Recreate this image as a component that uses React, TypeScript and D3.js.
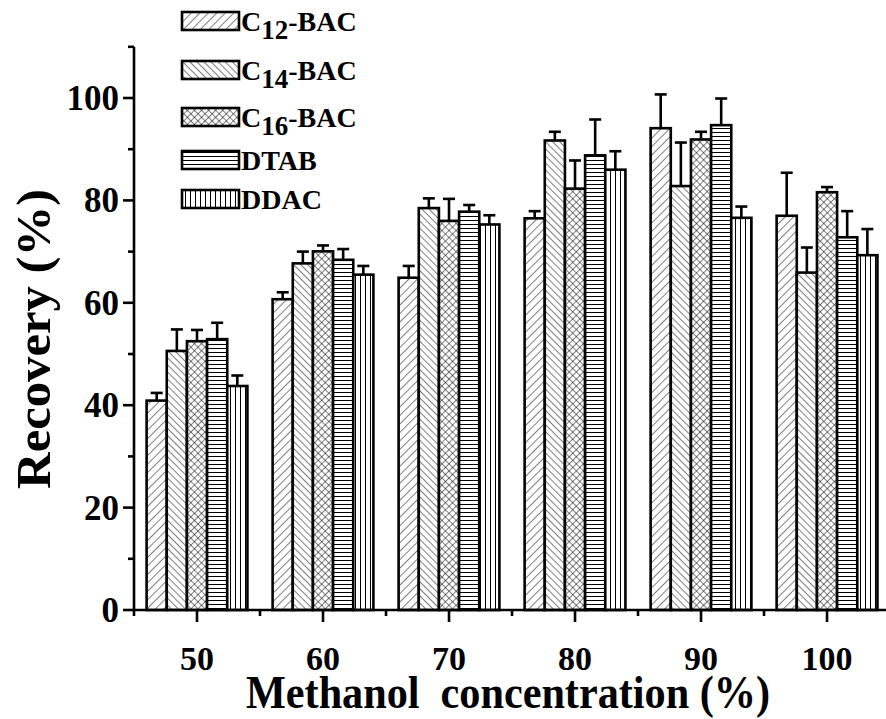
import React from "react";
import * as d3 from "d3";

const categories = [50, 60, 70, 80, 90, 100];
const seriesNames = ["C12-BAC", "C14-BAC", "C16-BAC", "DTAB", "DDAC"];
const c12 = [40.9, 60.7, 64.9, 76.5, 94.1, 77.0];
const c14 = [50.6, 67.7, 78.5, 91.7, 82.8, 65.9];
const c16 = [52.5, 70.05, 76.0, 82.3, 91.9, 81.6];
const dtab = [52.9, 68.4, 77.8, 88.8, 94.7, 72.8];
const ddac = [43.75, 65.5, 75.3, 86.0, 76.6, 69.3];
const c12Err = [1.5, 1.35, 2.3, 1.4, 6.6, 8.4];
const c14Err = [4.2, 2.3, 1.9, 1.7, 8.5, 4.9];
const c16Err = [2.2, 1.15, 4.3, 5.5, 1.5, 1.0];
const dtabErr = [3.2, 2.1, 1.3, 7.0, 5.2, 5.1];
const ddacErr = [2.05, 1.7, 1.8, 3.6, 2.2, 5.1];
const yTicks = [0, 20, 40, 60, 80, 100];

const values = [c12, c14, c16, dtab, ddac];
const errors = [c12Err, c14Err, c16Err, dtabErr, ddacErr];
const patternIds = ["pC12", "pC14", "pC16", "pDTAB", "pDDAC"];

const FONT = "'Liberation Serif', 'Times New Roman', serif";

export default function App() {
  const W = 886;
  const H = 719;
  const x = d3.scaleLinear().domain([45, 104.68]).range([134, 886]);
  const y = d3.scaleLinear().domain([0, 110]).range([610, 46.8]);
  const unit = x(1) - x(0);
  const barW = 1.6 * unit;
  const sw = 2.6;

  const minorY = d3.range(10, 111, 20);
  const majorX = categories;
  const minorX = d3.range(45, 105, 10);

  const legendRows = [21, 70, 117, 160, 199];

  const renderLabel = (name: string, lx: number, ly: number) => {
    const m = name.match(/^C(\d+)(-BAC)$/);
    if (m) {
      return (
        <text x={lx} y={ly} fontFamily={FONT} fontWeight="bold" fontSize={28}>
          C
          <tspan fontSize={27} dy={8}>{m[1]}</tspan>
          <tspan dy={-8}>{m[2]}</tspan>
        </text>
      );
    }
    return (
      <text x={lx} y={ly} fontFamily={FONT} fontWeight="bold" fontSize={28}>
        {name}
      </text>
    );
  };

  return (
    <svg width={W} height={H} style={{ position: "absolute", left: 0, top: 0, background: "#fff" }}>
      <defs>
        <pattern id="pC12" patternUnits="userSpaceOnUse" width={6} height={6} patternTransform="rotate(45)">
          <rect width={6} height={6} fill="#fff" />
          <line x1={0} y1={0} x2={0} y2={6} stroke="#000" strokeWidth={1} />
        </pattern>
        <pattern id="pC14" patternUnits="userSpaceOnUse" width={5} height={5} patternTransform="rotate(-45)">
          <rect width={5} height={5} fill="#fff" />
          <line x1={0} y1={0} x2={0} y2={5} stroke="#000" strokeWidth={1} />
        </pattern>
        <pattern id="pC16" patternUnits="userSpaceOnUse" width={5} height={5} patternTransform="rotate(45)">
          <rect width={5} height={5} fill="#fff" />
          <line x1={0} y1={0} x2={0} y2={5} stroke="#000" strokeWidth={1} />
          <line x1={0} y1={0} x2={5} y2={0} stroke="#000" strokeWidth={1} />
        </pattern>
        <pattern id="pDTAB" patternUnits="userSpaceOnUse" width={6} height={4}>
          <rect width={6} height={4} fill="#fff" />
          <line x1={0} y1={0.5} x2={6} y2={0.5} stroke="#000" strokeWidth={1} />
        </pattern>
        <pattern id="pDDAC" patternUnits="userSpaceOnUse" width={5} height={6}>
          <rect width={5} height={6} fill="#fff" />
          <line x1={0.5} y1={0} x2={0.5} y2={6} stroke="#000" strokeWidth={1} />
        </pattern>
      </defs>

      {/* bars */}
      {values.map((series, si) => (
        <g key={si}>
          {series.map((v, ci) => {
            const cx = x(categories[ci]) + (si - 2) * barW;
            const bx = cx - barW / 2;
            const top = y(v);
            const errTop = y(v + errors[si][ci]);
            return (
              <g key={ci}>
                <line x1={cx} x2={cx} y1={top} y2={errTop} stroke="#000" strokeWidth={sw} />
                <line x1={cx - 6} x2={cx + 6} y1={errTop} y2={errTop} stroke="#000" strokeWidth={sw} />
                <rect
                  x={bx}
                  y={top}
                  width={barW}
                  height={y(0) - top}
                  fill={`url(#${patternIds[si]})`}
                  stroke="#000"
                  strokeWidth={sw}
                />
              </g>
            );
          })}
        </g>
      ))}

      {/* y axis */}
      <line x1={134} x2={134} y1={y(0) + 1} y2={y(110)} stroke="#000" strokeWidth={sw} />
      {yTicks.map((t) => (
        <g key={t}>
          <line x1={123} x2={134} y1={y(t)} y2={y(t)} stroke="#000" strokeWidth={sw} />
          <text
            x={119}
            y={y(t)}
            dy="0.34em"
            textAnchor="end"
            fontFamily={FONT}
            fontWeight="bold"
            fontSize={35}
          >
            {t}
          </text>
        </g>
      ))}
      {minorY.map((t) => (
        <line key={t} x1={128} x2={134} y1={y(t)} y2={y(t)} stroke="#000" strokeWidth={sw} />
      ))}

      {/* x axis */}
      <line x1={133} x2={886} y1={y(0)} y2={y(0)} stroke="#000" strokeWidth={sw} />
      {majorX.map((t) => (
        <g key={t}>
          <line x1={x(t)} x2={x(t)} y1={y(0)} y2={y(0) + 12} stroke="#000" strokeWidth={sw} />
          <text
            x={x(t)}
            y={670}
            textAnchor="middle"
            fontFamily={FONT}
            fontWeight="bold"
            fontSize={34}
          >
            {t}
          </text>
        </g>
      ))}
      {minorX.map((t) => (
        <line key={t} x1={x(t)} x2={x(t)} y1={y(0)} y2={y(0) + 6} stroke="#000" strokeWidth={sw} />
      ))}

      {/* axis titles */}
      <text
        x={508}
        y={708}
        textAnchor="middle"
        fontFamily={FONT}
        fontWeight="bold"
        fontSize={46}
        textLength={524}
        lengthAdjust="spacingAndGlyphs"
        style={{ whiteSpace: "pre" }}
      >
        {"Methanol  concentration (%)"}
      </text>
      <text
        transform={`translate(50, 339) rotate(-90)`}
        textAnchor="middle"
        fontFamily={FONT}
        fontWeight="bold"
        fontSize={49}
        textLength={300}
        lengthAdjust="spacingAndGlyphs"
      >
        Recovery (%)
      </text>

      {/* legend */}
      {seriesNames.map((name, i) => {
        const cy = legendRows[i];
        return (
          <g key={name}>
            <rect
              x={182}
              y={cy - 9}
              width={57}
              height={18}
              fill={`url(#${patternIds[i]})`}
              stroke="#000"
              strokeWidth={sw}
            />
            {renderLabel(name, 241, cy + 10)}
          </g>
        );
      })}
    </svg>
  );
}
